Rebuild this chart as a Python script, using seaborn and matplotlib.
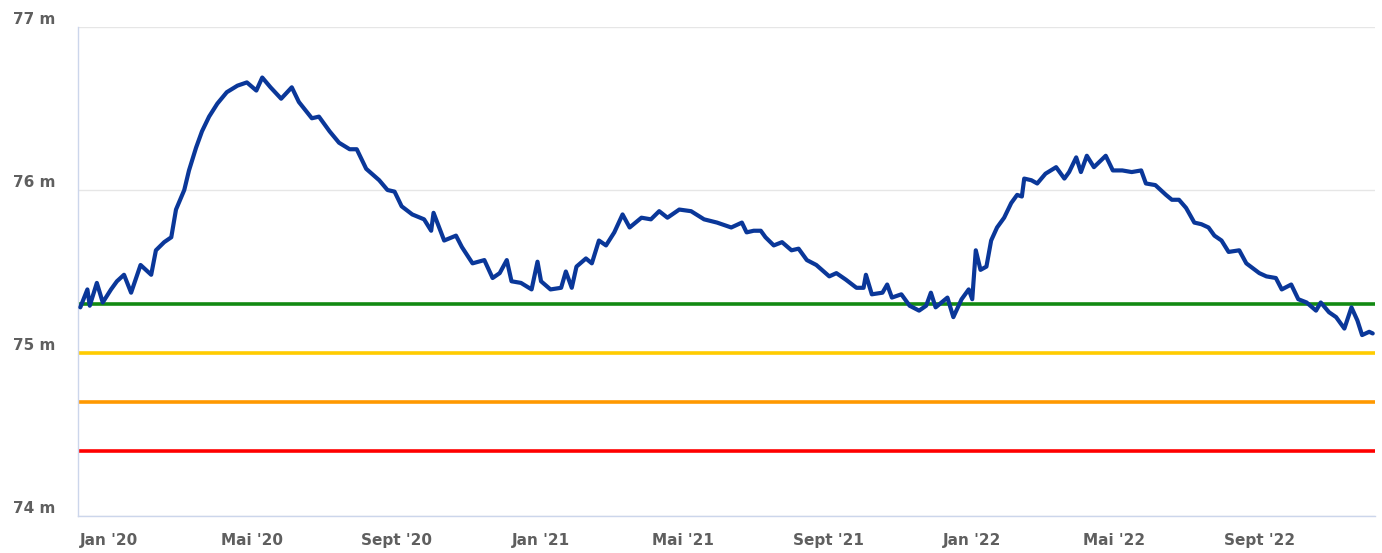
import pandas as pd
import matplotlib
matplotlib.use("Agg")
import matplotlib.pyplot as plt
import seaborn as sns

# water level readings
dates = [
    "2019-12-08", "2019-12-14", "2019-12-16", "2019-12-22", "2019-12-27", "2020-01-03",
    "2020-01-08", "2020-01-14", "2020-01-20", "2020-01-28", "2020-02-06", "2020-02-10",
    "2020-02-17", "2020-02-23", "2020-02-27", "2020-03-05", "2020-03-09", "2020-03-15",
    "2020-03-20", "2020-03-26", "2020-04-02", "2020-04-10", "2020-04-19", "2020-04-27",
    "2020-05-05", "2020-05-10", "2020-05-17", "2020-05-26", "2020-06-04", "2020-06-10",
    "2020-06-21", "2020-06-27", "2020-07-06", "2020-07-14", "2020-07-23", "2020-07-29",
    "2020-08-06", "2020-08-17", "2020-08-24", "2020-08-30", "2020-09-05", "2020-09-14",
    "2020-09-24", "2020-09-30", "2020-10-02", "2020-10-11", "2020-10-21", "2020-10-26",
    "2020-11-04", "2020-11-14", "2020-11-21", "2020-11-27", "2020-12-03", "2020-12-07",
    "2020-12-15", "2020-12-24", "2020-12-29", "2021-01-01", "2021-01-09", "2021-01-18",
    "2021-01-22", "2021-01-27", "2021-01-31", "2021-02-08", "2021-02-13", "2021-02-19",
    "2021-02-25", "2021-03-04", "2021-03-11", "2021-03-17", "2021-03-27", "2021-04-04",
    "2021-04-11", "2021-04-18", "2021-04-28", "2021-05-08", "2021-05-19", "2021-05-30",
    "2021-06-11", "2021-06-20", "2021-06-24", "2021-06-30", "2021-07-06", "2021-07-10",
    "2021-07-17", "2021-07-24", "2021-08-01", "2021-08-07", "2021-08-14", "2021-08-22",
    "2021-09-02", "2021-09-08", "2021-09-16", "2021-09-25", "2021-10-01", "2021-10-03",
    "2021-10-08", "2021-10-17", "2021-10-21", "2021-10-25", "2021-11-02", "2021-11-09",
    "2021-11-17", "2021-11-23", "2021-11-27", "2021-12-01", "2021-12-06", "2021-12-11",
    "2021-12-16", "2021-12-23", "2021-12-29", "2022-01-01", "2022-01-04", "2022-01-08",
    "2022-01-13", "2022-01-17", "2022-01-22", "2022-01-28", "2022-02-03", "2022-02-08",
    "2022-02-12", "2022-02-14", "2022-02-20", "2022-02-25", "2022-03-04", "2022-03-13",
    "2022-03-20", "2022-03-24", "2022-03-30", "2022-04-03", "2022-04-08", "2022-04-14",
    "2022-04-24", "2022-04-30", "2022-05-08", "2022-05-16", "2022-05-24", "2022-05-28",
    "2022-06-05", "2022-06-14", "2022-06-19", "2022-06-25", "2022-07-01", "2022-07-08",
    "2022-07-14", "2022-07-20", "2022-07-25", "2022-07-31", "2022-08-06", "2022-08-15",
    "2022-08-21", "2022-09-01", "2022-09-07", "2022-09-15", "2022-09-20", "2022-09-28",
    "2022-10-04", "2022-10-11", "2022-10-19", "2022-10-23", "2022-10-30", "2022-11-05",
    "2022-11-12", "2022-11-18", "2022-11-23", "2022-11-27", "2022-12-03", "2022-12-06",
]
levels = [
    75.28, 75.39, 75.29, 75.43, 75.31, 75.39,
    75.44, 75.48, 75.37, 75.54, 75.48, 75.63,
    75.68, 75.71, 75.88, 76.00, 76.12, 76.26,
    76.36, 76.45, 76.53, 76.60, 76.64, 76.66,
    76.61, 76.69, 76.63, 76.56, 76.63, 76.54,
    76.44, 76.45, 76.36, 76.29, 76.25, 76.25,
    76.13, 76.06, 76.00, 75.99, 75.90, 75.85,
    75.82, 75.75, 75.86, 75.69, 75.72, 75.65,
    75.55, 75.57, 75.46, 75.49, 75.57, 75.44,
    75.43, 75.39, 75.56, 75.44, 75.39, 75.40,
    75.50, 75.40, 75.53, 75.58, 75.55, 75.69,
    75.66, 75.74, 75.85, 75.77, 75.83, 75.82,
    75.87, 75.83, 75.88, 75.87, 75.82, 75.80,
    75.77, 75.80, 75.74, 75.75, 75.75, 75.71,
    75.66, 75.68, 75.63, 75.64, 75.57, 75.54,
    75.47, 75.49, 75.45, 75.40, 75.40, 75.48,
    75.36, 75.37, 75.42, 75.34, 75.36, 75.29,
    75.26, 75.29, 75.37, 75.28, 75.31, 75.34,
    75.22, 75.33, 75.39, 75.33, 75.63, 75.51,
    75.53, 75.69, 75.77, 75.83, 75.92, 75.97,
    75.96, 76.07, 76.06, 76.04, 76.10, 76.14,
    76.07, 76.11, 76.20, 76.11, 76.21, 76.14,
    76.21, 76.12, 76.12, 76.11, 76.12, 76.04,
    76.03, 75.97, 75.94, 75.94, 75.89, 75.80,
    75.79, 75.77, 75.72, 75.69, 75.62, 75.63,
    75.55, 75.49, 75.47, 75.46, 75.39, 75.42,
    75.33, 75.31, 75.26, 75.31, 75.25, 75.22,
    75.15, 75.28, 75.20, 75.11, 75.13, 75.12,
]

# alert thresholds
threshold_levels = [75.3, 75.0, 74.7, 74.4]
threshold_colors = ["#128a12", "#ffcc00", "#ff9900", "#ff0000"]

tick_dates = ["2020-01-01", "2020-05-01", "2020-09-01", "2021-01-01", "2021-05-01",
              "2021-09-01", "2022-01-01", "2022-05-01", "2022-09-01"]
tick_labels = ["Jan '20", "Mai '20", "Sept '20", "Jan '21", "Mai '21",
               "Sept '21", "Jan '22", "Mai '22", "Sept '22"]
y_ticks = [74, 75, 76, 77]
y_labels = ["74 m", "75 m", "76 m", "77 m"]

df = pd.DataFrame({"date": pd.to_datetime(dates), "level": levels})

sns.set_style("white")
plt.rcParams["font.family"] = ["DejaVu Sans"]

fig = plt.figure(figsize=(13.82, 5.53), dpi=100)
ax = fig.add_axes([0.0564, 0.0669, 0.9386, 0.8843])

for lvl, col in zip(threshold_levels, threshold_colors):
    ax.axhline(lvl, color=col, lw=2.6, zorder=2)

sns.lineplot(data=df, x="date", y="level", color="#0a3799", lw=3.0, ax=ax, zorder=3)

ax.set_xlim(pd.Timestamp("2019-12-06"), pd.Timestamp("2022-12-08"))
ax.set_ylim(74, 77)

ax.set_xticks(pd.to_datetime(tick_dates))
ax.set_xticklabels(tick_labels, fontsize=11, fontweight="bold", color="#5f5f5f")
ax.set_yticks(y_ticks)
ax.set_yticklabels(y_labels, fontsize=11, fontweight="bold", color="#5f5f5f",
                   ha="left", va="bottom")

ax.tick_params(axis="x", length=11, width=1, color="#ccd6eb", pad=1)
ax.tick_params(axis="y", length=0, pad=47)

ax.grid(axis="y", color="#e6e6e6", lw=1)
ax.grid(axis="x", visible=False)
ax.set_axisbelow(True)

for side in ["top", "right"]:
    ax.spines[side].set_visible(False)
for side in ["left", "bottom"]:
    ax.spines[side].set_color("#ccd6eb")
    ax.spines[side].set_linewidth(1)

ax.set_xlabel("")
ax.set_ylabel("")

fig.savefig("out.png", dpi=100)
